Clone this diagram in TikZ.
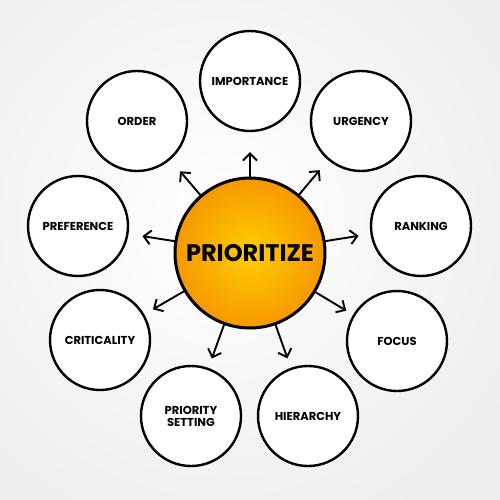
\documentclass[tikz,border=0pt]{standalone}
\usepackage{fontspec}
\setmainfont{Poppins}
\usetikzlibrary{arrows.meta}
\begin{document}
\begin{tikzpicture}[x=1pt,y=-1pt,
  leaf/.style={circle, draw=black, line width=2.4pt, fill=white, minimum size=100pt,
    inner sep=0pt, align=center, font=\fontsize{11.5}{13}\selectfont\bfseries},
  hub/.style={circle, draw=black, line width=3pt, minimum size=150pt, inner sep=0pt,
    inner color={rgb,255:red,255;green,205;blue,0}, outer color={rgb,255:red,246;green,152;blue,0},
    font=\fontsize{24}{26}\selectfont\bfseries},
  arr/.style={-{Straight Barb[length=7pt,width=14pt]}, line width=1.9pt, line cap=round}
]
\useasboundingbox (0,0) rectangle (500,500);
\shade[inner color=white, outer color=black!7] (-120,-120) rectangle (560,560);

\node[hub] (hub) at (250,253) {PRIORITIZE};
\node[leaf] (imp) at (250,81) {IMPORTANCE};
\node[leaf] (urg) at (361,121) {URGENCY};
\node[leaf] (rank) at (421,226) {RANKING};
\node[leaf] (foc) at (397,341) {FOCUS};
\node[leaf] (hier) at (308,416) {HIERARCHY};
\node[leaf] (prio) at (191,416) {PRIORITY\\[-1pt]SETTING};
\node[leaf] (crit) at (100,340) {CRITICALITY};
\node[leaf] (pref) at (78,226) {PREFERENCE};
\node[leaf] (ord) at (137,121) {ORDER};

\draw[arr, shorten >=20pt] (hub) -- (imp);
\draw[arr, shorten >=13pt] (hub) -- (urg);
\draw[arr, shorten >=12pt] (hub) -- (rank);
\draw[arr, shorten >=8pt] (hub) -- (foc);
\draw[arr, shorten >=10pt] (hub) -- (hier);
\draw[arr, shorten >=10pt] (hub) -- (prio);
\draw[arr, shorten >=10pt] (hub) -- (crit);
\draw[arr, shorten >=14pt] (hub) -- (pref);
\draw[arr, shorten >=15pt] (hub) -- (ord);
\end{tikzpicture}
\end{document}
